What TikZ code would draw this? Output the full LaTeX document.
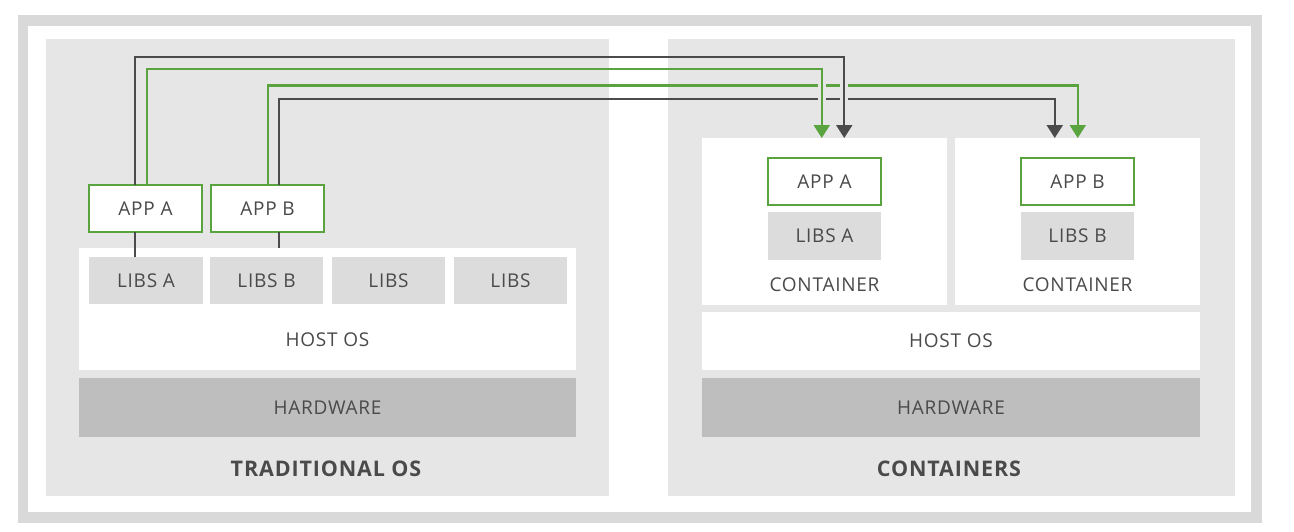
\documentclass[tikz,border=0pt]{standalone}
\usepackage{fontspec}
\setmainfont{Open Sans}[LetterSpace=4]
\usetikzlibrary{arrows.meta,calc}
\definecolor{bandgray}{HTML}{D9D9D9}
\definecolor{panelgray}{HTML}{E6E6E6}
\definecolor{libgray}{HTML}{DCDCDC}
\definecolor{hwgray}{HTML}{BEBEBE}
\definecolor{appgreen}{HTML}{5AA43F}
\definecolor{linedark}{HTML}{4B4B4B}
\definecolor{txt}{HTML}{4A4A4A}
\begin{document}
\begin{tikzpicture}[x=1pt,y=-1pt,
  every node/.style={inner sep=0pt, outer sep=0pt},
  lbl/.style={font=\fontsize{19}{21}\selectfont, text=txt},
  ttl/.style={font=\fontsize{21.5}{24}\selectfont\bfseries, text=txt},
  panel/.style={fill=panelgray, anchor=north west},
  whitebox/.style={fill=white, anchor=north west},
  libbox/.style={fill=libgray, lbl},
  hwbox/.style={fill=hwgray, lbl},
  appbox/.style={fill=white, draw=appgreen, line width=2.2pt, lbl},
  gline/.style={draw=appgreen, line width=2.2pt},
  dline/.style={draw=linedark, line width=2.2pt},
  tip/.style={-{Triangle[width=16pt,length=13pt]}},
  gapline/.style={draw=panelgray, line width=8pt}
]
\useasboundingbox (0,0) rectangle (1294,531);
\fill[white] (0,0) rectangle (1294,531);
% outer frame
\fill[bandgray] (18,15) rectangle (1262,523);
\fill[white] (28,26) rectangle (1251,512);

% panels
\node[panel, minimum width=563, minimum height=457] (panelL) at (46,39) {};
\node[panel, minimum width=567, minimum height=457] (panelR) at (668,39) {};

% ---------- traditional OS ----------
\node[whitebox, minimum width=497, minimum height=122] (hostL) at (79,248) {};
\node[lbl] (hostLtxt) at (327.5,340) {HOST OS};
\node[libbox, minimum width=114, minimum height=47] (libsAL) at (146,280.5) {LIBS A};
\node[libbox, minimum width=113, minimum height=47] (libsBL) at (266.5,280.5) {LIBS B};
\node[libbox, minimum width=113, minimum height=47] (libsCL) at (388.5,280.5) {LIBS};
\node[libbox, minimum width=113, minimum height=47] (libsDL) at (510.5,280.5) {LIBS};
\node[hwbox, minimum width=497, minimum height=59] (hwL) at (327.5,407.5) {HARDWARE};
\node[ttl] (ttlL) at (326,469) {TRADITIONAL OS};
\node[appbox, minimum width=113, minimum height=47] (appAL) at (145.5,208.5) {APP A};
\node[appbox, minimum width=113, minimum height=47] (appBL) at (267.5,208.5) {APP B};

% ---------- containers ----------
\node[whitebox, minimum width=244.5, minimum height=167] (contA) at (702,138) {};
\node[whitebox, minimum width=244.5, minimum height=167] (contB) at (955,138) {};
\node[appbox, minimum width=113, minimum height=47] (appAR) at (824.5,181.5) {APP A};
\node[libbox, minimum width=113, minimum height=48] (libsAR) at (824.5,236) {LIBS A};
\node[lbl] (contAtxt) at (824.5,285) {CONTAINER};
\node[appbox, minimum width=113, minimum height=47] (appBR) at (1077.5,181.5) {APP B};
\node[libbox, minimum width=113, minimum height=48] (libsBR) at (1077.5,236) {LIBS B};
\node[lbl] (contBtxt) at (1077.5,285) {CONTAINER};
\node[whitebox, minimum width=498, minimum height=58] (hostR) at (702,312) {};
\node[lbl] (hostRtxt) at (951,341) {HOST OS};
\node[hwbox, minimum width=498, minimum height=59] (hwR) at (951,407.5) {HARDWARE};
\node[ttl] (ttlR) at (949,469) {CONTAINERS};

% ---------- connectors ----------
% app to libs
\draw[dline] ([xshift=-10.5pt]appAL.south) -- ([xshift=-10.5pt]appAL.south |- libsAL.north);
\draw[dline] ([xshift=11.5pt]appBL.south) -- ([xshift=11.5pt]appBL.south |- hostL.north);
% app B lines (lower)
\draw[dline,tip] ([xshift=11.5pt]appBL.north) -- ++(0,-86) -| ([xshift=-22.5pt]contB.north);
\draw[gline,tip] ([xshift=0.5pt]appBL.north) -- ++(0,-99.5) -| ([xshift=0.5pt]contB.north);
% gaps where app A lines cross
\draw[gapline] ($(contA.north)+(-2.5,-58)$) -- ($(contA.north)+(-2.5,-36)$);
\draw[gapline] ($(contA.north)+(20,-58)$) -- ($(contA.north)+(20,-36)$);
% app A lines (upper)
\draw[dline,tip] ([xshift=-10.5pt]appAL.north) -- ++(0,-128) -| ([xshift=20pt]contA.north);
\draw[gline,tip] ([xshift=1.5pt]appAL.north) -- ++(0,-116) -| ([xshift=-2.5pt]contA.north);
\end{tikzpicture}
\end{document}
